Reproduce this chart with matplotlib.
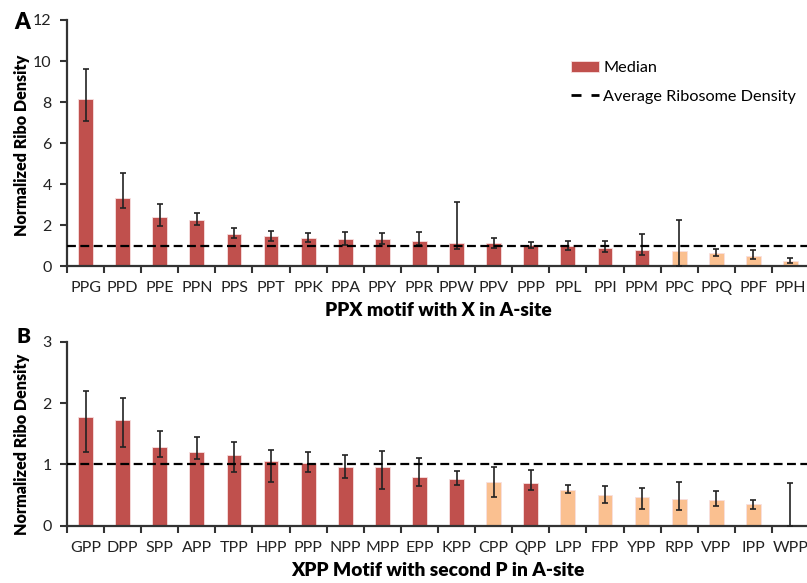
import matplotlib
matplotlib.use("Agg")
import matplotlib.pyplot as plt
from matplotlib.lines import Line2D
import numpy as np

plt.rcParams['font.family'] = ['Lato', 'DejaVu Sans']

RED = '#C0504D'
ORANGE = '#FAC090'

# Panel A data
a_labels = ['PPG','PPD','PPE','PPN','PPS','PPT','PPK','PPA','PPY','PPR',
            'PPW','PPV','PPP','PPL','PPI','PPM','PPC','PPQ','PPF','PPH']
a_median = [8.15,3.30,2.39,2.26,1.54,1.46,1.38,1.33,1.30,1.24,
            1.12,1.11,1.01,0.98,0.89,0.78,0.75,0.65,0.50,0.24]
a_upper = [9.61,4.52,3.04,2.60,1.84,1.72,1.59,1.64,1.61,1.66,
           3.14,1.35,1.19,1.24,1.22,1.54,2.26,0.81,0.76,0.39]
a_lower = [7.09,2.81,1.95,1.98,1.37,1.22,1.15,1.02,1.09,1.04,
           0.81,0.89,0.86,0.78,0.70,0.52,0.00,0.49,0.33,0.15]
a_light = ['PPC','PPQ','PPF','PPH']

# Panel B data
b_labels = ['GPP','DPP','SPP','APP','TPP','HPP','PPP','NPP','MPP','EPP',
            'KPP','CPP','QPP','LPP','FPP','YPP','RPP','VPP','IPP','WPP']
b_median = [1.77,1.73,1.29,1.20,1.15,1.05,1.02,0.95,0.95,0.79,
            0.755,0.71,0.70,0.58,0.505,0.46,0.435,0.42,0.35,0.0]
b_upper = [2.20,2.09,1.55,1.45,1.36,1.23,1.20,1.16,1.22,1.11,
           0.89,0.96,0.90,0.66,0.64,0.61,0.72,0.56,0.42,0.70]
b_lower = [1.20,1.28,1.125,1.08,0.87,0.71,0.87,0.77,0.60,0.64,
           0.66,0.47,0.58,0.54,0.37,0.28,0.26,0.32,0.28,0.0]
b_light = ['CPP','LPP','FPP','YPP','RPP','VPP','IPP','WPP']

avg_density = 1.0

fig = plt.figure(figsize=(8.07, 5.83), dpi=100)
axA = fig.add_axes([0.0830, 0.5437, 0.9195, 0.4220])
axB = fig.add_axes([0.0830, 0.0983, 0.9195, 0.3156])

def draw(ax, labels, med, up, lo, light, ymax, yticks, xlabel, ylab_y, legend=False):
    x = np.arange(len(labels))
    med = np.array(med); up = np.array(up); lo = np.array(lo)
    colors = [ORANGE if l in light else RED for l in labels]
    bars = ax.bar(x, med, width=0.4, color=colors, edgecolor='#F8E0E0',
                  linewidth=0.6, zorder=2, label='Median')
    yerr = np.vstack([med - lo, up - med])
    ax.errorbar(x, med, yerr=yerr, fmt='none', ecolor='#222222',
                elinewidth=1.2, capsize=2.5, capthick=1.2, zorder=3)
    ax.axhline(avg_density, color='black', linestyle=(0, (4, 2)),
               linewidth=1.6, zorder=4)
    ax.set_xlim(-0.5, len(labels) - 0.5)
    ax.set_ylim(0, ymax)
    ax.set_yticks(yticks)
    ax.set_yticklabels([str(t) for t in yticks], fontsize=11.5, color='#222222')
    ax.set_xticks(x)
    ax.set_xticklabels(labels, fontsize=11.5, color='#222222')
    ax.set_xticks(np.arange(len(labels) + 1) - 0.5, minor=True)
    ax.tick_params(axis='x', which='major', length=0, pad=11)
    ax.tick_params(axis='x', which='minor', length=5, width=1.5, color='#333333')
    ax.tick_params(axis='y', which='major', length=5, width=1.5, color='#333333', pad=6)
    for s in ['top', 'right']:
        ax.spines[s].set_visible(False)
    for s in ['left', 'bottom']:
        ax.spines[s].set_linewidth(1.6)
        ax.spines[s].set_color('#333333')
    ax.set_ylabel('Normalized Ribo Density', fontsize=11.6, fontweight='heavy')
    ax.yaxis.set_label_coords(-0.050, ylab_y)
    ax.set_xlabel(xlabel, fontsize=13.8, fontweight='heavy', labelpad=5)
    if legend:
        dash_handle = Line2D([], [], color='black', linewidth=2.0,
                             linestyle=(0, (3.6, 3.6)))
        ax.legend([bars, dash_handle], ['Median', 'Average Ribosome Density'],
                  loc='upper left', bbox_to_anchor=(0.659, 0.893), frameon=False,
                  fontsize=11.7, handlelength=1.72, handletextpad=0.3,
                  labelspacing=0.85)

draw(axA, a_labels, a_median, a_upper, a_lower, a_light, 12,
     [0, 2, 4, 6, 8, 10, 12], 'PPX motif with X in A-site', 0.49, legend=True)
draw(axB, b_labels, b_median, b_upper, b_lower, b_light, 3,
     [0, 1, 2, 3], 'XPP Motif with second P in A-site', 0.44)

fig.text(0.018, 0.962, 'A', fontsize=16, fontweight='heavy', va='center')
fig.text(0.021, 0.422, 'B', fontsize=15, fontweight='heavy', va='center')

fig.savefig('out.png', dpi=100)
